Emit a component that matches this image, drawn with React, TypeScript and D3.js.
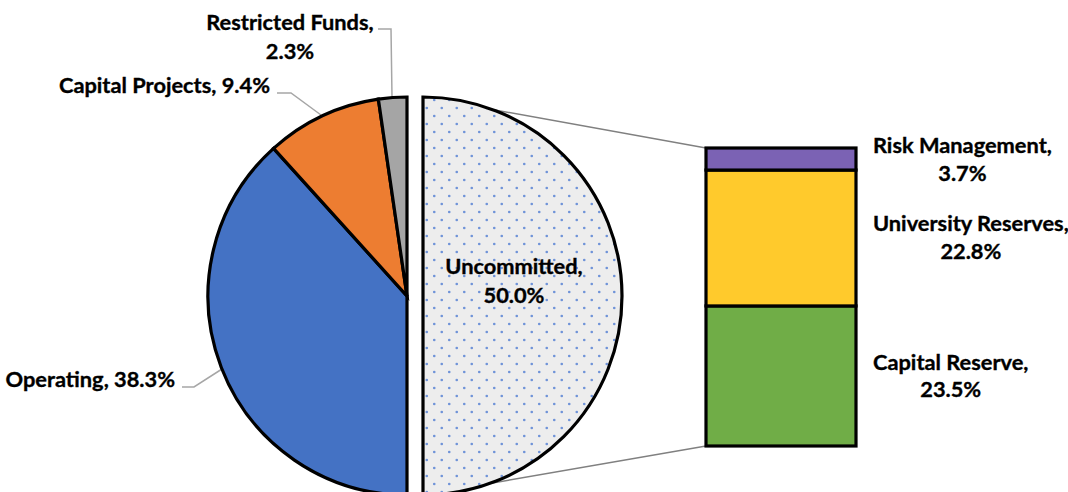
import React, { useLayoutEffect, useRef } from "react";
import * as d3 from "d3";

const pieLabels = ["Uncommitted", "Operating", "Capital Projects", "Restricted Funds"];
const pieValues = [50.0, 38.3, 9.4, 2.3];
const pieColors = ["url(#dots)", "#4472C4", "#ED7D31", "#A5A5A5"];

const barLabels = ["Capital Reserve", "University Reserves", "Risk Management"];
const barValues = [23.5, 22.8, 3.7];
const barColors = ["#70AD47", "#FFCA2C", "#7B62B4"];

const W = 1068;
const H = 492;
const FONT = "Lato, 'Noto Sans', sans-serif";
const FS = 21.8;

export default function App() {
  const rightRef = useRef<SVGGElement>(null);

  const cx = 407;
  const cy = 296;
  const r = 199;
  const explode = 16;

  const pie = d3.pie<number>().sort(null).value((d) => d).startAngle(0).endAngle(2 * Math.PI);
  const arcs = pie(pieValues);
  const arc = d3.arc<d3.PieArcDatum<number>>().innerRadius(0).outerRadius(r);

  const barX0 = 706;
  const barX1 = 856;
  const y = d3.scaleLinear().domain([0, d3.sum(barValues)]).range([446, 148]);
  let acc = 0;
  const bars = barValues.map((v, i) => {
    const y0 = y(acc);
    acc += v;
    const y1 = y(acc);
    return { v, i, y0, y1 };
  });

  useLayoutEffect(() => {
    if (!rightRef.current) return;
    const g = d3.select(rightRef.current);
    g.selectAll<SVGGElement, unknown>("g.rl").each(function () {
      const gg = d3.select(this);
      const t1 = gg.select<SVGTextElement>("text.l1").node();
      if (!t1) return;
      const w = t1.getComputedTextLength();
      const left = 873;
      gg.selectAll("text").attr("x", left + w / 2);
    });
  }, []);

  const uncommittedMid = (arcs[0].startAngle + arcs[0].endAngle) / 2;

  const pct = (v: number) => v.toFixed(1) + "%";

  const textStyle: React.CSSProperties = {
    fontFamily: FONT,
    fontWeight: 700,
    fontSize: FS,
    fill: "#000",
    stroke: "#000",
    strokeWidth: 0.35,
  };

  return (
    <svg width={W} height={H} style={{ position: "absolute", left: 0, top: 0 }}>
      <defs>
        <pattern id="dots" patternUnits="userSpaceOnUse" width={15} height={16}>
          <rect width={15} height={16} fill="#EDEDED" />
          <circle cx={3.75} cy={4} r={1.3} fill="#6F93D8" />
          <circle cx={11.25} cy={12} r={1.3} fill="#6F93D8" />
        </pattern>
      </defs>
      <rect width={W} height={H} fill="#fff" />

      {/* connector lines */}
      <line x1={cx + explode} y1={cy - r} x2={barX0} y2={y(d3.sum(barValues))} stroke="#808080" strokeWidth={1.5} />
      <line x1={cx + explode} y1={cy + r} x2={barX0} y2={y(0)} stroke="#808080" strokeWidth={1.5} />

      {/* leader lines */}
      <polyline points="378,29 391,29 392,97" fill="none" stroke="#A6A6A6" strokeWidth={1.5} />
      <polyline points="277,93 291,93 321,115" fill="none" stroke="#A6A6A6" strokeWidth={1.5} />
      <polyline points="182,387 194,387 222,369" fill="none" stroke="#A6A6A6" strokeWidth={1.5} />

      {/* pie */}
      <g>
        {arcs.map((a, i) => (
          <path
            key={pieLabels[i]}
            d={arc(a) || ""}
            transform={`translate(${cx + (i === 0 ? explode * Math.sin(uncommittedMid) : 0)},${cy})`}
            fill={pieColors[i]}
            stroke="#000"
            strokeWidth={3.2}
            strokeLinejoin="miter"
          />
        ))}
      </g>

      {/* bar */}
      <g>
        {bars.map((b) => (
          <rect
            key={barLabels[b.i]}
            x={barX0}
            y={b.y1}
            width={barX1 - barX0}
            height={b.y0 - b.y1}
            fill={barColors[b.i]}
            stroke="#000"
            strokeWidth={3.2}
          />
        ))}
      </g>

      {/* pie labels */}
      <g style={textStyle}>
        <text x={290} y={30} textAnchor="middle">{pieLabels[3] + ","}</text>
        <text x={290} y={59} textAnchor="middle">{pct(pieValues[3])}</text>
        <text x={270} y={93} textAnchor="end">{pieLabels[2] + ", " + pct(pieValues[2])}</text>
        <text x={175} y={387} textAnchor="end">{pieLabels[1] + ", " + pct(pieValues[1])}</text>
        <text x={514} y={274} textAnchor="middle">{pieLabels[0] + ","}</text>
        <text x={514} y={303} textAnchor="middle">{pct(pieValues[0])}</text>
      </g>

      {/* bar labels */}
      <g ref={rightRef} style={textStyle}>
        {[
          { i: 2, b1: 153, b2: 181 },
          { i: 1, b1: 231, b2: 259 },
          { i: 0, b1: 370, b2: 397 },
        ].map((l) => (
          <g className="rl" key={barLabels[l.i]}>
            <text className="l1" x={960} y={l.b1} textAnchor="middle">{barLabels[l.i] + ","}</text>
            <text className="l2" x={960} y={l.b2} textAnchor="middle">{pct(barValues[l.i])}</text>
          </g>
        ))}
      </g>
    </svg>
  );
}
